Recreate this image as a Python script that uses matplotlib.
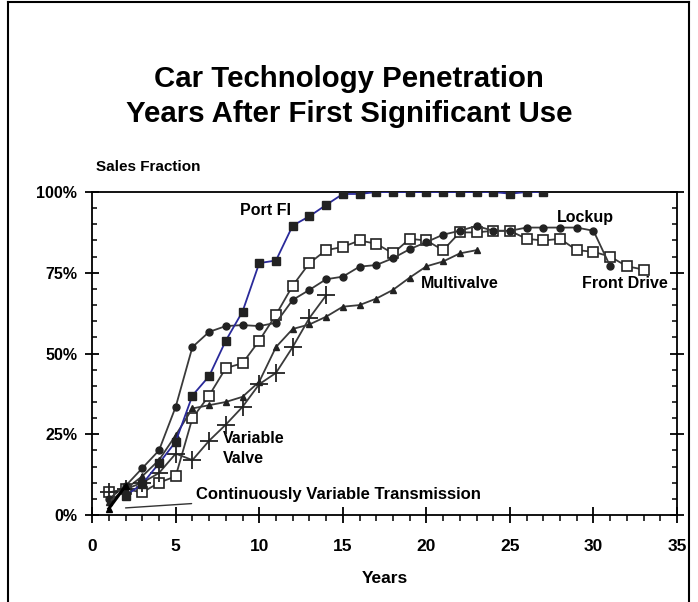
import matplotlib
matplotlib.use("Agg")
import matplotlib.pyplot as plt
from matplotlib.lines import Line2D
from matplotlib.ticker import MultipleLocator, FuncFormatter

plt.rcParams["font.family"] = ["Liberation Sans", "DejaVu Sans"]
plt.rcParams["font.weight"] = "bold"

# Datos (porcentaje de ventas por años)
anios_port_fi = list(range(2, 28))
port_fi = [6, 9.6, 16, 22.7, 37, 43, 54, 63, 78, 78.8, 89.6, 92.5, 96, 99.4,
           99.4, 100, 100, 100, 100, 100, 100, 100, 100, 99.5, 100, 100]

anios_lockup = list(range(1, 32))
lockup = [5, 9, 14.5, 20, 33.5, 52, 56.7, 58.5, 58.8, 58.5, 59.5, 66.6, 69.7, 73,
          73.8, 76.9, 77.4, 79.5, 82.3, 84.5, 86.8, 88, 89.5, 88, 88, 89, 89, 89,
          89, 88, 77]

anios_front = list(range(1, 34))
front_drive = [7, 8, 7, 10, 12, 30, 37, 45.5, 47, 54, 62, 71, 78, 82, 83, 85, 84,
               81, 85.5, 85, 82, 87.5, 87.5, 88, 88, 85.5, 85, 85.5, 82, 81.5, 80,
               77, 76]

anios_multi = list(range(1, 24))
multivalve = [4, 8, 12, 17, 24.7, 33, 34, 35, 36.6, 41.3, 52, 57.6, 59, 61.4,
              64.5, 65, 67, 69.7, 73.5, 77, 78.5, 81, 82]

anios_vv = list(range(1, 15))
variable_valve = [7, 8, 10, 13, 19, 17, 23, 28, 33.5, 40.5, 44, 52, 61, 68]

anios_cvt = [1, 2]
cvt = [2, 9]

gris = "#3a3a3a"

fig = plt.figure(figsize=(6.98, 6.02), dpi=100)
ax = fig.add_axes([0.132, 0.1445, 0.838, 0.5365])

ax.plot(anios_front, front_drive, color=gris, lw=1.3, marker="s", markersize=6.5,
        markerfacecolor="white", markeredgecolor="#222222", markeredgewidth=1.2, zorder=3)
ax.plot(anios_lockup, lockup, color=gris, lw=1.3, marker="o", markersize=5,
        markerfacecolor="#222222", markeredgecolor="#222222", zorder=4)
ax.plot(anios_multi, multivalve, color=gris, lw=1.3, marker="^", markersize=4.5,
        markerfacecolor="#222222", markeredgecolor="#222222", zorder=4)
ax.plot(anios_vv, variable_valve, color=gris, lw=1.3, marker="+", markersize=13,
        markeredgewidth=1.3, markeredgecolor="#222222", zorder=4)
ax.plot(anios_port_fi, port_fi, color="#2a2a9a", lw=1.3, marker="s", markersize=5.5,
        markerfacecolor="#222222", markeredgecolor="#222222", zorder=5)
ax.plot(anios_cvt, cvt, color="black", lw=2.2, marker="^", markersize=4.5,
        markerfacecolor="black", zorder=6)

ax.set_xlim(0, 35)
ax.set_ylim(0, 100)
ax.xaxis.set_major_locator(MultipleLocator(5))
ax.xaxis.set_minor_locator(MultipleLocator(1))
ax.yaxis.set_major_locator(MultipleLocator(25))
ax.yaxis.set_minor_locator(MultipleLocator(5))
ax.yaxis.set_major_formatter(FuncFormatter(lambda v, p: f"{v:.0f}%"))

for s in ax.spines.values():
    s.set_linewidth(1.3)
# eje y: marcas mayores cruzadas, menores hacia dentro
ax.tick_params(axis="y", which="major", direction="inout", length=9.5, width=1.3,
               labelsize=11.5, pad=6, right=True)
ax.tick_params(axis="y", which="minor", direction="in", length=3.5, width=1.1,
               right=True)
# eje x: marcas mayores cruzadas, menores hacia fuera
ax.tick_params(axis="x", which="major", direction="inout", length=11, width=1.3,
               labelsize=12.5, pad=12, top=False)
ax.tick_params(axis="x", which="minor", direction="out", length=4, width=1.1,
               top=False)

ax.set_xlabel("Years", fontsize=12.5, fontweight="bold", labelpad=12)

# Etiquetas de las series
ax.text(10.4, 94.4, "Port FI", fontsize=11.5, ha="center", va="center")
ax.text(29.5, 92, "Lockup", fontsize=11.5, ha="center", va="center")
ax.text(22, 71.8, "Multivalve", fontsize=11.5, ha="center", va="center")
ax.text(31.9, 71.8, "Front Drive", fontsize=11.5, ha="center", va="center")
ax.text(7.8, 20.6, "Variable\nValve", fontsize=11.5, ha="left", va="center",
        linespacing=1.45)
ax.annotate("Continuously Variable Transmission", xy=(2.0, 2.2), xytext=(6.2, 6.5),
            fontsize=12, ha="left", va="center",
            arrowprops=dict(arrowstyle="-", color="#333333", lw=1, shrinkA=1, shrinkB=0))

fig.text(0.5, 0.868, "Car Technology Penetration", ha="center", va="center",
         fontsize=21.2, fontweight="bold")
fig.text(0.5, 0.810, "Years After First Significant Use", ha="center", va="center",
         fontsize=21.2, fontweight="bold")
fig.text(0.137, 0.722, "Sales Fraction", ha="left", va="center", fontsize=11,
         fontweight="bold")

# Marco exterior
for linea in [[(0.0115, 0.0115), (0, 0.996)],
              [(0.0115, 0.987), (0.996, 0.996)],
              [(0.987, 0.987), (0, 0.996)]]:
    fig.add_artist(Line2D(linea[0], linea[1], color="black", lw=1.5,
                          transform=fig.transFigure))

fig.savefig("out.png", dpi=100)
